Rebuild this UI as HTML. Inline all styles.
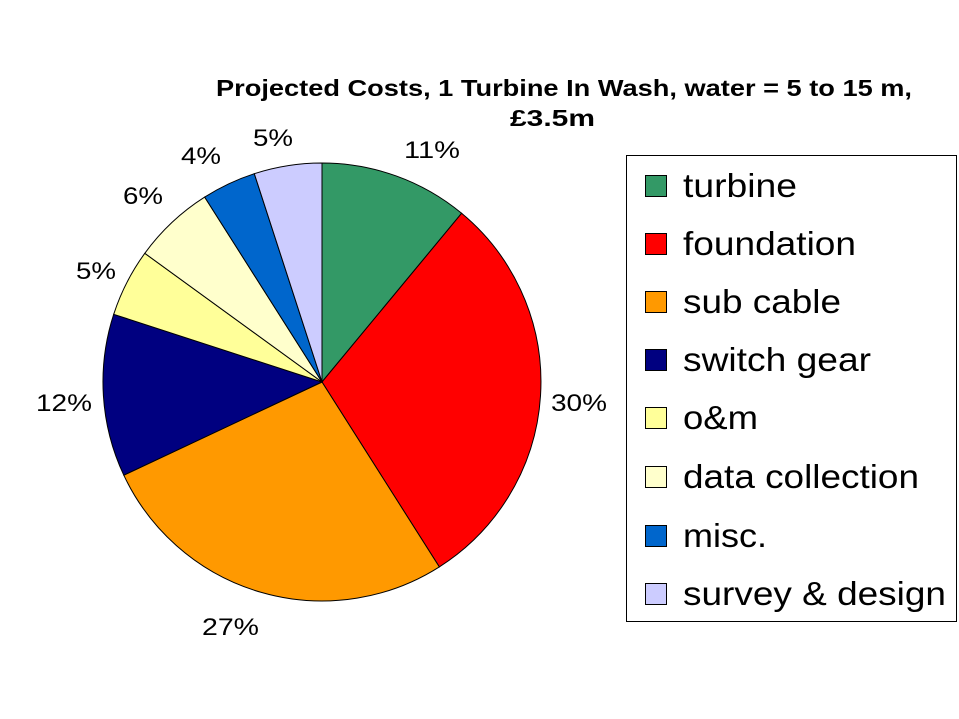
<!DOCTYPE html>
<html><head><meta charset="utf-8"><style>
html,body{margin:0;padding:0;background:#fff;}
svg{display:block;font-family:"Liberation Sans",Arial,sans-serif;}
</style></head><body>
<svg width="959" height="719" viewBox="0 0 959 719">
<rect width="959" height="719" fill="#fff"/>
<text x="216" y="96" font-size="23" font-weight="bold" textLength="696" lengthAdjust="spacingAndGlyphs">Projected Costs, 1 Turbine In Wash, water = 5 to 15 m,</text>
<text x="510" y="126" font-size="23" font-weight="bold" textLength="85" lengthAdjust="spacingAndGlyphs">£3.5m</text>
<g stroke="#000" stroke-width="1">
<path d="M322,382 L322,163 A219,219 0 0 1 461.6,213.3 Z" fill="#339966"/>
<path d="M322,382 L461.6,213.3 A219,219 0 0 1 439.3,566.9 Z" fill="#ff0000"/>
<path d="M322,382 L439.3,566.9 A219,219 0 0 1 123.8,475.2 Z" fill="#ff9900"/>
<path d="M322,382 L123.8,475.2 A219,219 0 0 1 113.7,314.3 Z" fill="#000080"/>
<path d="M322,382 L113.7,314.3 A219,219 0 0 1 144.8,253.3 Z" fill="#ffff99"/>
<path d="M322,382 L144.8,253.3 A219,219 0 0 1 204.7,197.1 Z" fill="#ffffcc"/>
<path d="M322,382 L204.7,197.1 A219,219 0 0 1 254.3,173.7 Z" fill="#0066cc"/>
<path d="M322,382 L254.3,173.7 A219,219 0 0 1 322,163 Z" fill="#ccccff"/>
</g>
<g font-size="24" lengthAdjust="spacingAndGlyphs">
<text x="404" y="158" textLength="56" lengthAdjust="spacingAndGlyphs">11%</text>
<text x="551" y="411" textLength="56" lengthAdjust="spacingAndGlyphs">30%</text>
<text x="202" y="635" textLength="57" lengthAdjust="spacingAndGlyphs">27%</text>
<text x="36" y="411" textLength="56" lengthAdjust="spacingAndGlyphs">12%</text>
<text x="76" y="279" textLength="40" lengthAdjust="spacingAndGlyphs">5%</text>
<text x="123" y="204" textLength="40" lengthAdjust="spacingAndGlyphs">6%</text>
<text x="181" y="164" textLength="40" lengthAdjust="spacingAndGlyphs">4%</text>
<text x="253" y="146" textLength="40" lengthAdjust="spacingAndGlyphs">5%</text>
</g>
<rect x="626.5" y="155.5" width="330" height="466" fill="#fff" stroke="#000"/>
<g stroke="#000" stroke-width="1">
<rect x="645.5" y="175.5" width="21" height="21" fill="#339966"/>
<rect x="645.5" y="233.5" width="21" height="21" fill="#ff0000"/>
<rect x="645.5" y="291.5" width="21" height="21" fill="#ff9900"/>
<rect x="645.5" y="349.5" width="21" height="21" fill="#000080"/>
<rect x="645.5" y="407.5" width="21" height="21" fill="#ffff99"/>
<rect x="645.5" y="466.5" width="21" height="21" fill="#ffffcc"/>
<rect x="645.5" y="525.5" width="21" height="21" fill="#0066cc"/>
<rect x="645.5" y="583.5" width="21" height="21" fill="#ccccff"/>
</g>
<g font-size="33">
<text x="683" y="197" textLength="114" lengthAdjust="spacingAndGlyphs">turbine</text>
<text x="683" y="255" textLength="173" lengthAdjust="spacingAndGlyphs">foundation</text>
<text x="683" y="313" textLength="158" lengthAdjust="spacingAndGlyphs">sub cable</text>
<text x="683" y="371" textLength="188" lengthAdjust="spacingAndGlyphs">switch gear</text>
<text x="683" y="429" textLength="75" lengthAdjust="spacingAndGlyphs">o&amp;m</text>
<text x="683" y="488" textLength="236" lengthAdjust="spacingAndGlyphs">data collection</text>
<text x="683" y="547" textLength="84" lengthAdjust="spacingAndGlyphs">misc.</text>
<text x="683" y="605" textLength="263" lengthAdjust="spacingAndGlyphs">survey &amp; design</text>
</g>
</svg>
</body></html>
